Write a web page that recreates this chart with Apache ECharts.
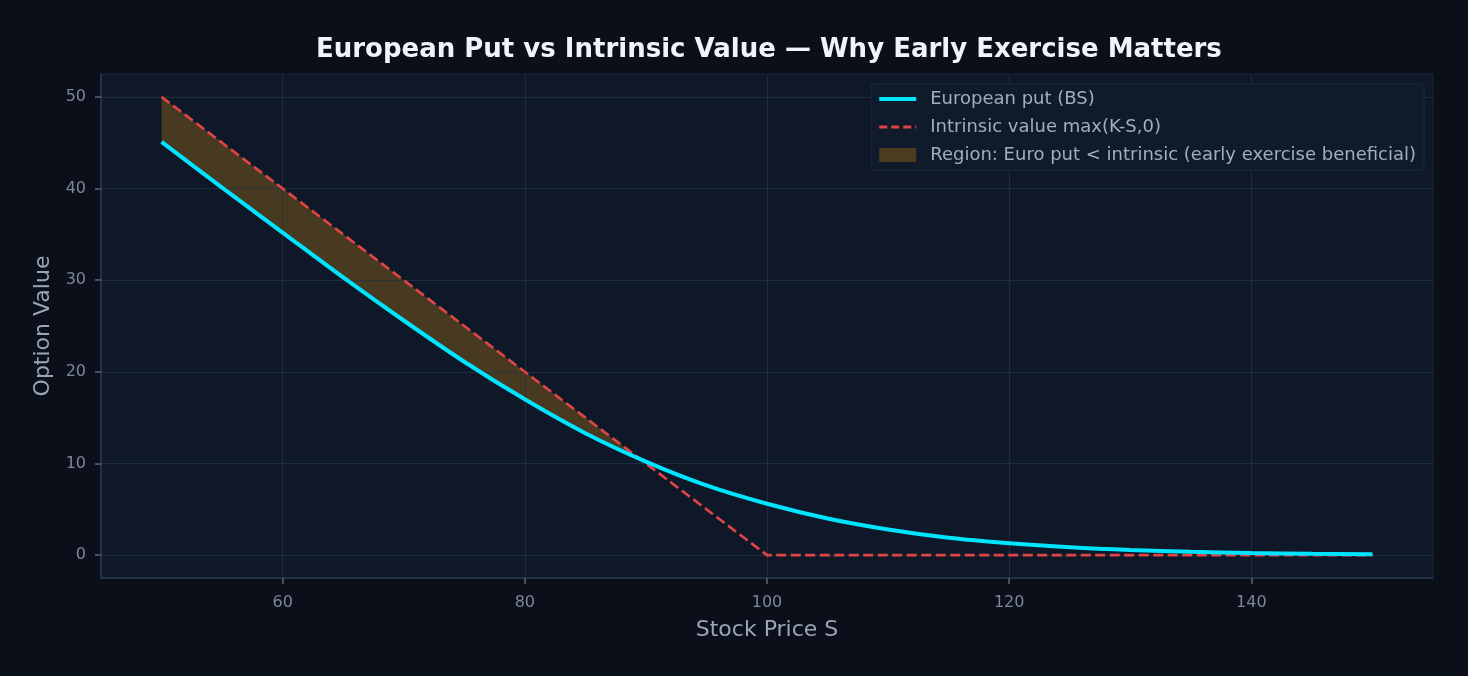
<!DOCTYPE html>
<html>
<head>
<meta charset="utf-8">
<script src="https://cdn.jsdelivr.net/npm/echarts@6/dist/echarts.min.js"></script>
<style>
  html, body { margin: 0; padding: 0; background: #0b0f1a; }
  #chart { width: 1468px; height: 676px; }
</style>
</head>
<body>
<div id="chart"></div>
<script>
// stock price grid (K = 100)
const stockPrices = [50, 55, 60, 65, 70, 75, 80, 85, 90, 95, 100, 105, 110, 115, 120, 125, 130, 135, 140, 145, 150];
// Black-Scholes European put
const euroPut = [45.1, 40.1, 35.2, 30.3, 25.6, 21.1, 17.0, 13.3, 10.2, 7.6, 5.6, 4.0, 2.8, 1.9, 1.3, 0.86, 0.56, 0.36, 0.23, 0.15, 0.09];
// intrinsic value max(K-S,0)
const intrinsic = [50, 45, 40, 35, 30, 25, 20, 15, 10, 5, 0, 0, 0, 0, 0, 0, 0, 0, 0, 0, 0];
const xTicks = [60, 80, 100, 120, 140];
const yTicks = [0, 10, 20, 30, 40, 50];

const putData = stockPrices.map((s, i) => [s, euroPut[i]]);
const intrinsicData = stockPrices.map((s, i) => [s, intrinsic[i]]);

// polygon where the put sits below intrinsic value
function regionPoints() {
  const upper = [];
  const lower = [];
  for (let i = 0; i < stockPrices.length; i++) {
    const d = intrinsic[i] - euroPut[i];
    if (d > 0) {
      upper.push([stockPrices[i], intrinsic[i]]);
      lower.push([stockPrices[i], euroPut[i]]);
      const dn = intrinsic[i + 1] - euroPut[i + 1];
      if (dn <= 0) {
        // crossing between i and i+1
        const t = d / (d - dn);
        const sx = stockPrices[i] + t * (stockPrices[i + 1] - stockPrices[i]);
        const sy = intrinsic[i] + t * (intrinsic[i + 1] - intrinsic[i]);
        lower.push([sx, sy]);
        break;
      }
    }
  }
  return lower.concat(upper.reverse());
}

const tickColor = '#7d8797';
const labelColor = '#9aa5b5';
const gridColor = 'rgba(38, 50, 70, 0.75)';
const font = 'DejaVu Sans';

const chart = echarts.init(document.getElementById('chart'));

chart.setOption({
  backgroundColor: '#0b0f1a',
  animation: false,
  title: {
    text: 'European Put vs Intrinsic Value — Why Early Exercise Matters',
    left: 311,
    top: 32,
    textStyle: { color: '#f0f4fa', fontSize: 26, fontWeight: 'bold', fontFamily: font },
  },
  grid: {
    left: 101,
    right: 35,
    top: 74,
    bottom: 98,
    show: true,
    backgroundColor: '#0f1829',
    borderColor: '#1a2538',
    borderWidth: 1,
  },
  legend: {
    orient: 'vertical',
    right: 44,
    top: 84,
    padding: [6, 8, 6, 6],
    itemGap: 10,
    itemWidth: 37,
    itemHeight: 14,
    backgroundColor: '#0f1a2b',
    borderColor: '#1c283a',
    borderWidth: 1,
    borderRadius: 3,
    textStyle: { color: '#a3adbb', fontSize: 18, fontFamily: font, padding: [0, 0, 0, 9] },
    data: [
      { name: 'European put (BS)', itemStyle: { opacity: 0 }, lineStyle: { width: 4 } },
      { name: 'Intrinsic value max(K-S,0)', itemStyle: { opacity: 0 }, lineStyle: { width: 3, type: [8, 4] } },
      {
        name: 'Region: Euro put < intrinsic (early exercise beneficial)',
        icon: 'rect',
        itemStyle: { color: '#4b3b1f' },
      },
    ],
  },
  xAxis: {
    type: 'value',
    min: 45,
    max: 155,
    z: 3,
    name: 'Stock Price S',
    nameLocation: 'middle',
    nameGap: 41,
    nameTextStyle: { color: labelColor, fontSize: 22, fontFamily: font },
    axisLine: { onZero: false, lineStyle: { color: '#2a3850', width: 1.5 } },
    axisTick: { show: true, length: 6, customValues: xTicks, lineStyle: { color: '#5a6577', width: 1.5 } },
    axisLabel: { customValues: xTicks, color: tickColor, fontSize: 16, fontFamily: font, margin: 17 },
    splitLine: { show: true, lineStyle: { color: gridColor, width: 1 } },
  },
  yAxis: {
    type: 'value',
    min: -2.5,
    max: 52.5,
    z: 3,
    name: 'Option Value',
    nameLocation: 'middle',
    nameGap: 44,
    nameTextStyle: { color: labelColor, fontSize: 22, fontFamily: font },
    axisLine: { show: true, onZero: false, lineStyle: { color: '#2a3850', width: 1.5 } },
    axisTick: { show: true, length: 6, customValues: yTicks, lineStyle: { color: '#5a6577', width: 1.5 } },
    axisLabel: { customValues: yTicks, color: tickColor, fontSize: 16, fontFamily: font, margin: 15 },
    splitLine: { show: true, lineStyle: { color: gridColor, width: 1 } },
  },
  series: [
    {
      name: 'Region: Euro put < intrinsic (early exercise beneficial)',
      type: 'custom',
      z: 2,
      silent: true,
      itemStyle: { color: '#4b3b1f' },
      data: [[stockPrices[0], intrinsic[0]]],
      renderItem: function (params, api) {
        const pts = regionPoints().map((p) => api.coord(p));
        return {
          type: 'polygon',
          shape: { points: pts },
          style: { fill: 'rgba(245, 158, 11, 0.25)' },
        };
      },
    },
    {
      name: 'Intrinsic value max(K-S,0)',
      type: 'line',
      z: 4,
      data: intrinsicData,
      symbol: 'none',
      lineStyle: { color: '#e04545', width: 2.6, type: [10, 4.5] },
      itemStyle: { color: '#e04545' },
    },
    {
      name: 'European put (BS)',
      type: 'line',
      z: 5,
      data: putData,
      smooth: 0.3,
      symbol: 'none',
      lineStyle: { color: '#00e5ff', width: 4 },
      itemStyle: { color: '#00e5ff' },
    },
  ],
});
</script>
</body>
</html>
